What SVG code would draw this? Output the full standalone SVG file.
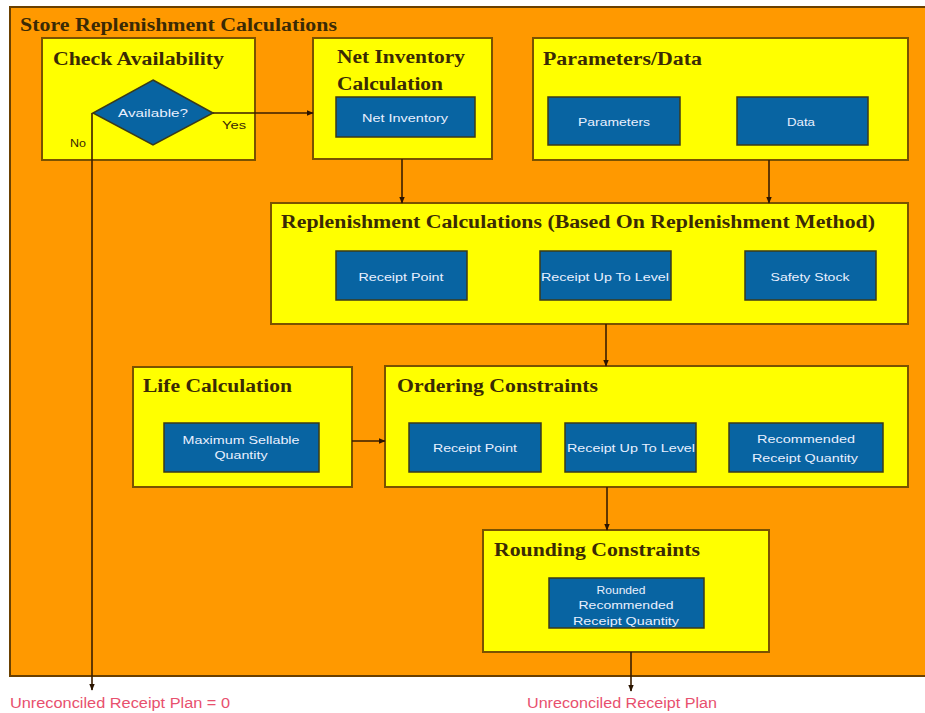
<svg xmlns="http://www.w3.org/2000/svg" width="925" height="713" viewBox="0 0 925 713">
  <style>
    .panel { fill: #ffff00; stroke: #7a5200; stroke-width: 2; }
    .item { fill: #0864a2; stroke: #3a3a1a; stroke-width: 1.5; }
    .title { font-family: "Liberation Serif", "Times New Roman", serif; font-weight: bold; fill: #3a2a05; font-size: 18px; }
    .label { font-family: "Liberation Sans", Arial, sans-serif; fill: #e8f0ff; font-size: 10.5px; text-anchor: middle; }
    .note { font-family: "Liberation Sans", Arial, sans-serif; fill: #3a2a05; font-size: 10.5px; }
    .out { font-family: "Liberation Sans", Arial, sans-serif; fill: #e8506e; font-size: 14px; }
    .flow { stroke: #3a1e00; stroke-width: 1.6; fill: none; marker-end: url(#arrow); }
  </style>
  <defs>
    <marker id="arrow" viewBox="0 0 10 10" refX="9" refY="5" markerWidth="7" markerHeight="7" markerUnits="userSpaceOnUse" orient="auto">
      <path d="M0,1 L10,5 L0,9 z" fill="#2a1400"/>
    </marker>
  </defs>

  <rect x="0" y="0" width="925" height="713" fill="#ffffff"/>

  <!-- outer container -->
  <g id="store-replenishment">
    <rect x="10" y="7" width="920" height="669" fill="#ff9900" stroke="#6a4000" stroke-width="2"/>
    <text class="title" x="20" y="31" font-size="19" textLength="317" lengthAdjust="spacingAndGlyphs">Store Replenishment Calculations</text>
  </g>

  <g id="check-availability">
    <rect class="panel" x="42" y="38" width="213" height="122"/>
    <text class="title" x="53" y="65" textLength="171" lengthAdjust="spacingAndGlyphs">Check Availability</text>
    <polygon class="item" points="153,80 213,113 153,145 93,113"/>
    <text class="label" x="153" y="117" textLength="70" lengthAdjust="spacingAndGlyphs">Available?</text>
    <text class="note" x="222" y="129" textLength="24" lengthAdjust="spacingAndGlyphs">Yes</text>
    <text class="note" x="70" y="147" textLength="16" lengthAdjust="spacingAndGlyphs">No</text>
  </g>

  <g id="net-inventory-calculation">
    <rect class="panel" x="313" y="38" width="179" height="121"/>
    <text class="title" x="337" y="63" textLength="128" lengthAdjust="spacingAndGlyphs">Net Inventory</text>
    <text class="title" x="337" y="90" textLength="106" lengthAdjust="spacingAndGlyphs">Calculation</text>
    <rect class="item" x="336" y="97" width="139" height="40"/>
    <text class="label" x="405" y="122" textLength="86" lengthAdjust="spacingAndGlyphs">Net Inventory</text>
  </g>

  <g id="parameters-data">
    <rect class="panel" x="533" y="38" width="375" height="122"/>
    <text class="title" x="543" y="65" textLength="159" lengthAdjust="spacingAndGlyphs">Parameters/Data</text>
    <rect class="item" x="548" y="97" width="132" height="48"/>
    <text class="label" x="614" y="126" textLength="72" lengthAdjust="spacingAndGlyphs">Parameters</text>
    <rect class="item" x="737" y="97" width="131" height="48"/>
    <text class="label" x="801" y="126" textLength="28" lengthAdjust="spacingAndGlyphs">Data</text>
  </g>

  <g id="replenishment-calculations">
    <rect class="panel" x="271" y="203" width="637" height="121"/>
    <text class="title" x="281" y="228" textLength="594" lengthAdjust="spacingAndGlyphs">Replenishment Calculations (Based On Replenishment Method)</text>
    <rect class="item" x="336" y="251" width="131" height="49"/>
    <text class="label" x="401" y="281" textLength="85" lengthAdjust="spacingAndGlyphs">Receipt Point</text>
    <rect class="item" x="540" y="251" width="131" height="49"/>
    <text class="label" x="605" y="281" textLength="128" lengthAdjust="spacingAndGlyphs">Receipt Up To Level</text>
    <rect class="item" x="745" y="251" width="131" height="49"/>
    <text class="label" x="810" y="281" textLength="79" lengthAdjust="spacingAndGlyphs">Safety Stock</text>
  </g>

  <g id="life-calculation">
    <rect class="panel" x="133" y="367" width="219" height="120"/>
    <text class="title" x="143" y="392" textLength="149" lengthAdjust="spacingAndGlyphs">Life Calculation</text>
    <rect class="item" x="164" y="423" width="155" height="49"/>
    <text class="label" x="241" y="444" textLength="117" lengthAdjust="spacingAndGlyphs">Maximum Sellable</text>
    <text class="label" x="241" y="459" textLength="53" lengthAdjust="spacingAndGlyphs">Quantity</text>
  </g>

  <g id="ordering-constraints">
    <rect class="panel" x="385" y="366" width="523" height="121"/>
    <text class="title" x="397" y="392" textLength="201" lengthAdjust="spacingAndGlyphs">Ordering Constraints</text>
    <rect class="item" x="409" y="423" width="132" height="49"/>
    <text class="label" x="475" y="452" textLength="84" lengthAdjust="spacingAndGlyphs">Receipt Point</text>
    <rect class="item" x="565" y="423" width="131" height="49"/>
    <text class="label" x="631" y="452" textLength="128" lengthAdjust="spacingAndGlyphs">Receipt Up To Level</text>
    <rect class="item" x="729" y="423" width="154" height="49"/>
    <text class="label" x="806" y="443" textLength="98" lengthAdjust="spacingAndGlyphs">Recommended</text>
    <text class="label" x="805" y="462" textLength="106" lengthAdjust="spacingAndGlyphs">Receipt Quantity</text>
  </g>

  <g id="rounding-constraints">
    <rect class="panel" x="483" y="530" width="286" height="122"/>
    <text class="title" x="494" y="556" textLength="206" lengthAdjust="spacingAndGlyphs">Rounding Constraints</text>
    <rect class="item" x="549" y="578" width="155" height="50"/>
    <text class="label" x="621" y="594" textLength="49" lengthAdjust="spacingAndGlyphs">Rounded</text>
    <text class="label" x="626" y="609" textLength="95" lengthAdjust="spacingAndGlyphs">Recommended</text>
    <text class="label" x="626" y="625" textLength="106" lengthAdjust="spacingAndGlyphs">Receipt Quantity</text>
  </g>

  <!-- outputs -->
  <g id="outputs">
    <text class="out" x="10" y="708" textLength="220" lengthAdjust="spacingAndGlyphs">Unreconciled Receipt Plan = 0</text>
    <text class="out" x="527" y="708" textLength="190" lengthAdjust="spacingAndGlyphs">Unreconciled Receipt Plan</text>
  </g>

  <g id="connectors">
    <line class="flow" x1="213" y1="113" x2="313" y2="113"/>
    <line class="flow" x1="92" y1="113" x2="92" y2="690"/>
    <line class="flow" x1="402" y1="159" x2="402" y2="203"/>
    <line class="flow" x1="769" y1="160" x2="769" y2="203"/>
    <line class="flow" x1="606" y1="324" x2="606" y2="366"/>
    <line class="flow" x1="352" y1="441" x2="385" y2="441"/>
    <line class="flow" x1="607" y1="487" x2="607" y2="530"/>
    <line class="flow" x1="631" y1="652" x2="631" y2="691"/>
  </g>
</svg>
